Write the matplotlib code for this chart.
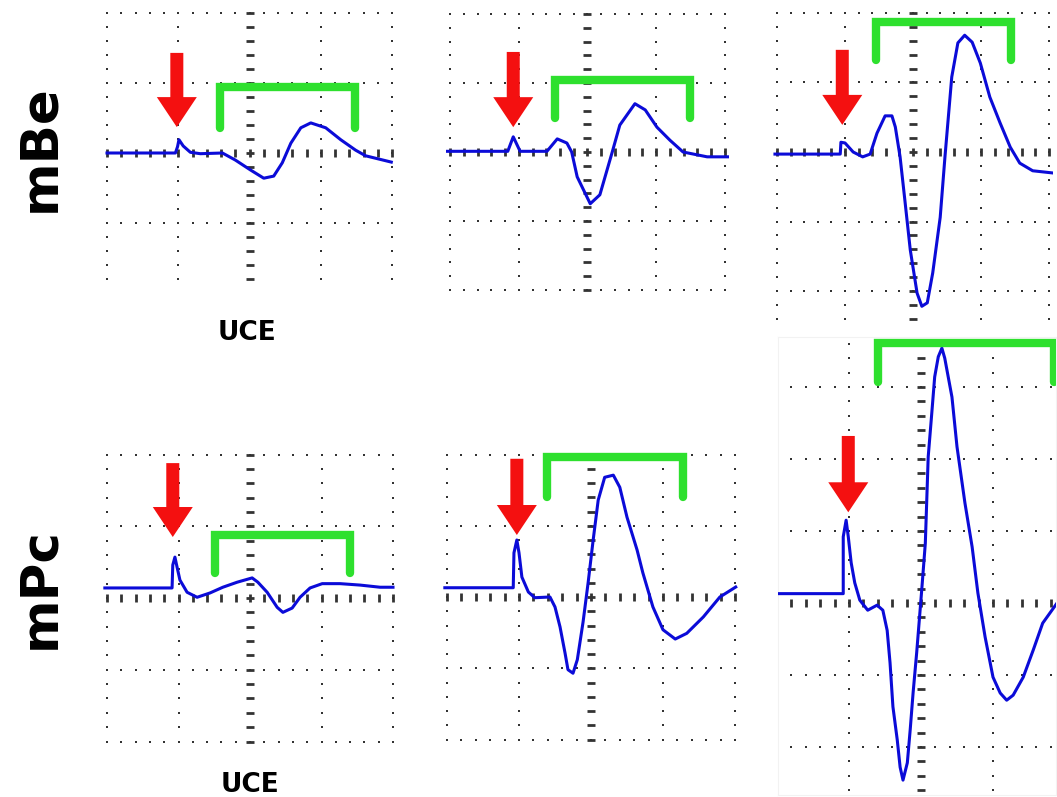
import numpy as np
import matplotlib.pyplot as plt
from matplotlib.patches import FancyArrow

W, H = 1057, 797

# traces: time and amplitude in screen divisions
# (time from the left grid column, amplitude from the centre line)
be_uce_t = [0.00, 0.96, 0.99, 1.01, 1.07, 1.17, 1.31, 1.62, 1.80, 2.01, 2.20, 2.34,
            2.46, 2.58, 2.72, 2.86, 3.07, 3.28, 3.49, 3.63, 3.99]
be_uce_v = [0.00, 0.00, 0.09, 0.19, 0.10, 0.01, -0.01, 0.00, -0.10, -0.24, -0.36, -0.33,
            -0.14, 0.14, 0.36, 0.43, 0.36, 0.19, 0.04, -0.04, -0.13]

be_mid_t = [-0.04, 0.84, 0.92, 1.02, 1.41, 1.56, 1.70, 1.77, 1.85, 2.04, 2.18, 2.36,
            2.47, 2.69, 2.84, 3.01, 3.20, 3.39, 3.74, 4.04]
be_mid_v = [0.01, 0.01, 0.22, 0.01, 0.01, 0.19, 0.13, 0.00, -0.36, -0.75, -0.62, 0.00,
            0.39, 0.70, 0.61, 0.36, 0.17, 0.00, -0.07, -0.07]

be_big_t = [-0.03, 0.93, 0.94, 1.00, 1.12, 1.26, 1.37, 1.47, 1.59, 1.69, 1.74, 1.81,
            1.88, 1.96, 2.06, 2.13, 2.21, 2.29, 2.40, 2.47, 2.57, 2.66, 2.76, 2.87,
            2.99, 3.13, 3.28, 3.43, 3.57, 3.76, 4.04]
be_big_v = [-0.03, -0.03, 0.14, 0.13, 0.00, -0.07, -0.03, 0.27, 0.52, 0.52, 0.36, -0.07,
            -0.69, -1.41, -2.03, -2.22, -2.17, -1.74, -0.94, -0.07, 1.08, 1.57, 1.68, 1.58,
            1.28, 0.79, 0.42, 0.07, -0.16, -0.27, -0.30]

pc_uce_t = [-0.03, 0.91, 0.92, 0.95, 0.98, 1.02, 1.12, 1.26, 1.44, 1.62, 1.82, 2.03,
            2.11, 2.24, 2.38, 2.46, 2.59, 2.70, 2.84, 3.01, 3.26, 3.54, 3.82, 4.00]
pc_uce_v = [0.14, 0.14, 0.46, 0.57, 0.43, 0.25, 0.08, 0.01, 0.07, 0.15, 0.22, 0.28,
            0.22, 0.08, -0.13, -0.20, -0.14, 0.01, 0.14, 0.20, 0.20, 0.18, 0.15, 0.15]

pc_mid_t = [-0.03, 0.92, 0.93, 0.97, 1.00, 1.04, 1.13, 1.22, 1.43, 1.50, 1.57, 1.64,
            1.68, 1.75, 1.81, 1.89, 1.96, 2.03, 2.10, 2.19, 2.31, 2.40, 2.50, 2.64,
            2.72, 2.86, 3.00, 3.17, 3.33, 3.56, 3.79, 4.01]
pc_mid_v = [0.13, 0.13, 0.62, 0.80, 0.62, 0.28, 0.07, -0.01, 0.00, -0.14, -0.42, -0.79,
            -1.02, -1.07, -0.88, -0.35, 0.20, 0.80, 1.36, 1.68, 1.71, 1.54, 1.12, 0.66,
            0.34, -0.14, -0.46, -0.59, -0.51, -0.28, 0.00, 0.14]

pc_big_t = [0.01, 0.92, 0.92, 0.96, 0.99, 1.03, 1.08, 1.15, 1.26, 1.39, 1.47, 1.53,
            1.57, 1.61, 1.67, 1.71, 1.75, 1.81, 1.85, 1.89, 1.94, 2.01, 2.06, 2.10,
            2.15, 2.19, 2.24, 2.29, 2.33, 2.43, 2.50, 2.61, 2.71, 2.79, 2.89, 3.00,
            3.10, 3.19, 3.28, 3.42, 3.56, 3.69, 3.89]
pc_big_v = [0.13, 0.13, 0.92, 1.15, 0.92, 0.56, 0.28, 0.04, -0.10, -0.03, -0.10, -0.38,
            -0.83, -1.44, -1.90, -2.28, -2.46, -2.22, -1.76, -1.25, -0.69, 0.18, 0.83, 2.03,
            2.64, 3.14, 3.42, 3.54, 3.40, 2.86, 2.17, 1.39, 0.78, 0.14, -0.47, -1.03,
            -1.25, -1.35, -1.28, -1.03, -0.65, -0.28, 0.00]

# stimulus arrow (tip time, tip amplitude, top amplitude) and response bracket
# (start, end, top, leg bottom), in divisions
arrows = [(0.98, 0.37, 1.43), (0.92, 0.36, 1.45), (0.96, 0.39, 1.47),
          (0.92, 0.85, 1.88), (0.97, 0.87, 1.94), (0.99, 1.26, 2.32)]
brackets = [(1.59, 3.48, 0.94, 0.36), (1.53, 3.49, 1.04, 0.49), (1.46, 3.44, 1.87, 1.32),
            (1.51, 3.40, 0.88, 0.35), (1.39, 3.28, 1.96, 1.40), (1.40, 3.85, 3.61, 3.07)]

traces = [(be_uce_t, be_uce_v), (be_mid_t, be_mid_v), (be_big_t, be_big_v),
          (pc_uce_t, pc_uce_v), (pc_mid_t, pc_mid_v), (pc_big_t, pc_big_v)]

# screen calibration in pixels: left column x, px/div, centre row y, px/div, crop box
screens = [
    (107, 71.25, 153, 70.0, (103, 396, 8, 288)),
    (450, 68.75, 152, 69.0, (446, 729, 9, 293)),
    (777, 68.0, 152, 69.5, (773, 1053, 9, 321)),
    (107, 71.5, 598, 71.75, (103, 396, 450, 746)),
    (447, 72.0, 597, 71.25, (443, 739, 450, 746)),
    (777, 72.0, 603, 72.0, (778, 1056, 337, 795)),
]

trace_col = '#0b0bd8'
arrow_col = '#f41010'
green = '#2ee02e'
dot_col = '#333333'

fig = plt.figure(figsize=(W / 100, H / 100), dpi=100)


def draw_grid(ax):
    t0, t1 = ax.get_xlim()
    a0, a1 = ax.get_ylim()
    mt = np.arange(np.ceil(t0 * 5), np.floor(t1 * 5) + 1) / 5
    ma = np.arange(np.ceil(a0 * 5), np.floor(a1 * 5) + 1) / 5
    cols = np.arange(np.ceil(t0), np.floor(t1) + 1)
    rows = np.arange(np.ceil(a0), np.floor(a1) + 1)
    for r in rows:
        if r != 0:
            ax.plot(mt, np.full(len(mt), r), ls='none', marker='s', ms=2.1,
                    mew=0, color=dot_col, zorder=1)
    for c in cols:
        if c != 2:
            ax.plot(np.full(len(ma), c), ma, ls='none', marker='s', ms=2.1,
                    mew=0, color=dot_col, zorder=1)
    # centre lines carry small tick marks instead of dots
    ax.plot(mt, np.zeros(len(mt)), ls='none', marker='|', ms=6, mew=2.0,
            color=dot_col, zorder=1)
    ax.plot(np.full(len(ma), 2), ma, ls='none', marker='_', ms=6, mew=2.0,
            color=dot_col, zorder=1)


for i, (x0, dx, y0, dy, crop) in enumerate(screens):
    left, right, top, bottom = crop
    ax = fig.add_axes([left / W, 1 - bottom / H, (right - left) / W, (bottom - top) / H])
    ax.set_xlim((left - x0) / dx, (right - x0) / dx)
    ax.set_ylim((y0 - bottom) / dy, (y0 - top) / dy)
    ax.set_xticks([])
    ax.set_yticks([])
    for s in ax.spines.values():
        s.set_visible(i == 5)
        s.set_color('#f2f2f2')
    draw_grid(ax)

    t, v = traces[i]
    ax.plot(t, v, color=trace_col, lw=2.2, zorder=3)

    tx, ty, top_a = arrows[i]
    ax.add_patch(FancyArrow(tx, top_a, 0, ty - top_a, width=13 / dx,
                            head_width=40 / dx, head_length=30 / dy,
                            length_includes_head=True, color=arrow_col, lw=0, zorder=4))

    b0, b1, btop, bbot = brackets[i]
    ax.plot([b0, b0, b1, b1], [bbot, btop, btop, bbot], color=green, lw=6,
            solid_capstyle='round', solid_joinstyle='miter', zorder=4)

fig.text(40 / W, 1 - 148 / H, 'mBe', rotation=90, fontsize=37, fontweight='bold',
         ha='center', va='center')
fig.text(40 / W, 1 - 588 / H, 'mPc', rotation=90, fontsize=37, fontweight='bold',
         ha='center', va='center')
fig.text(247 / W, 1 - 333 / H, 'UCE', fontsize=19, fontweight='bold',
         ha='center', va='center')
fig.text(250 / W, 1 - 785 / H, 'UCE', fontsize=19, fontweight='bold',
         ha='center', va='center')

fig.savefig('out.png', dpi=100, facecolor='white')
